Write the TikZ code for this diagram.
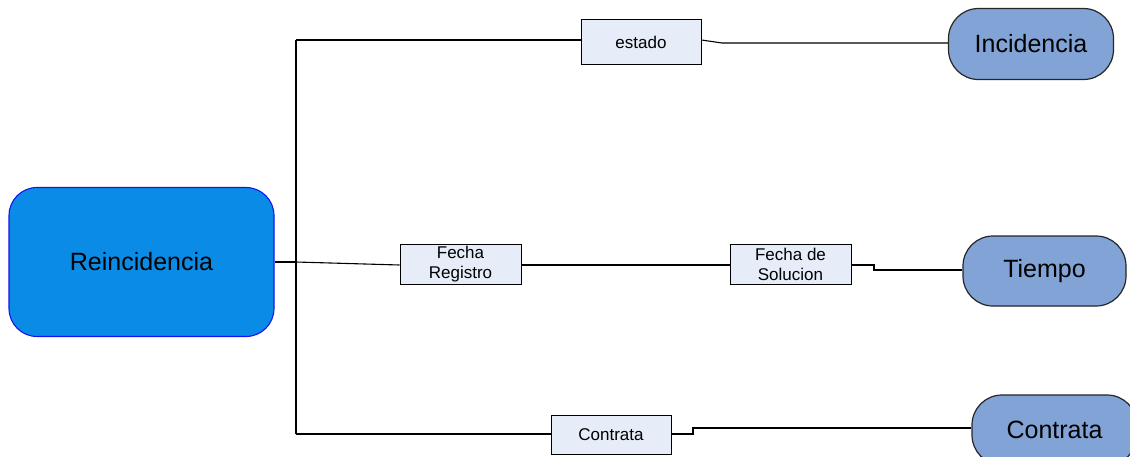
\documentclass[tikz,border=0pt]{standalone}
\usepackage{fontspec}
\setmainfont{Liberation Sans}
\begin{document}
\begin{tikzpicture}[x=1pt,y=-1pt,
  mainbox/.style={draw={rgb,255:red,20;green,20;blue,240}, line width=1.1pt, fill={rgb,255:red,10;green,140;blue,230},
    rounded corners=28pt, inner sep=0pt, font=\fontsize{25}{29}\selectfont},
  entity/.style={draw=black!85, line width=1.2pt, fill={rgb,255:red,129;green,163;blue,214},
    rounded corners=30pt, inner sep=0pt, font=\fontsize{25}{29}\selectfont},
  attr/.style={draw=black, line width=1pt, fill={rgb,255:red,230;green,236;blue,248},
    inner sep=0pt, align=center, font=\fontsize{17}{20}\selectfont},
  link/.style={draw=black, line width=1.1pt}]
\useasboundingbox (0,0) rectangle (1130,456);
\begin{scope}
\clip (0,0) rectangle (1130,456);
% main entity
\node[mainbox, minimum width=265pt, minimum height=149pt] (re) at (141.5,262) {Reincidencia};
% related entities
\node[entity, minimum width=165pt, minimum height=71pt] (inc) at (1031,44) {Incidencia};
\node[entity, minimum width=163pt, minimum height=70pt] (tie) at (1044.5,271) {Tiempo};
\node[entity, minimum width=165pt, minimum height=70pt] (con) at (1054.5,430) {Contrata};
% attribute labels
\node[attr, minimum width=120pt, minimum height=45pt] (est) at (641,42) {estado};
\node[attr, minimum width=121pt, minimum height=40pt] (fr) at (460.5,264) {Fecha\\Registro};
\node[attr, minimum width=121pt, minimum height=40pt] (fs) at (790.5,264) {Fecha de\\Solucion};
\node[attr, minimum width=120pt, minimum height=39pt] (ct) at (611,434.5) {Contrata};
% bus
\coordinate (j) at (296,262);
\coordinate (jt) at (296,40);
\coordinate (jb) at (296,434);
\draw[link] (re.east) -- (j);
\draw[link] (jt) -- (jb);
% upper branch
\draw[link] (jt) -- (est.west |- jt);
\draw[link] (est.east |- 0,40) -- (722,43) -- (inc.west |- 0,43);
% middle branch
\draw[link] (j) -- (fr.west |- 0,265);
\draw[link] (fr.east |- 0,265) -- (fs.west |- 0,265);
\draw[link] (fs.east |- 0,265) -- (874,265) -- (874,270) -- (tie.west |- 0,270);
% lower branch
\draw[link] (jb) -- (ct.west |- jb);
\draw[link] (ct.east |- jb) -- (693,434) -- (693,428) -- (con.west |- 0,428);
\end{scope}
\end{tikzpicture}
\end{document}
